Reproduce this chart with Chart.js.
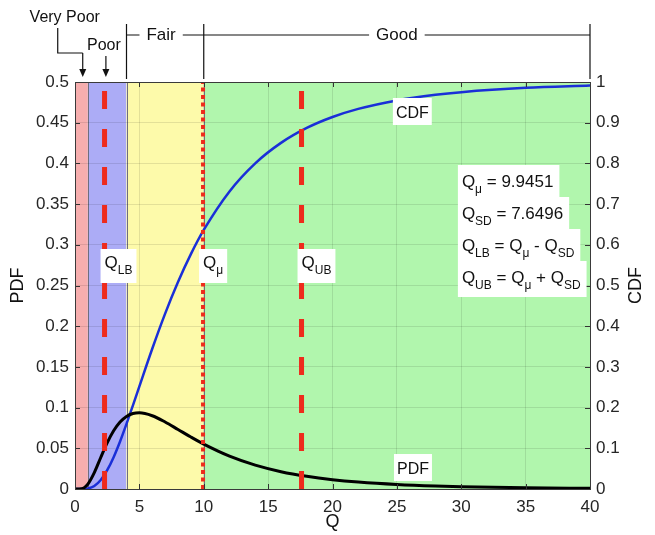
<!DOCTYPE html>
<html>
<head>
<meta charset="utf-8">
<script src="https://cdn.jsdelivr.net/npm/chart.js@4.4.0/dist/chart.umd.min.js"></script>
<style>
  html, body { margin: 0; padding: 0; background: #fff; }
</style>
</head>
<body>
<canvas id="myChart" width="655" height="535"></canvas>
<script>
// ---- data
const qValues = [0, 0.5, 0.75, 1, 1.5, 2, 2.5, 3, 3.5, 4, 4.5, 5, 6, 7, 8, 9, 10, 12, 14, 16, 18, 20, 22, 25, 28, 30, 35, 40];
const pdfValues = [0, 0.0003, 0.002, 0.006, 0.0202, 0.0387, 0.0567, 0.0715, 0.0823, 0.0892, 0.0927, 0.0936, 0.09, 0.0823, 0.0731, 0.0638, 0.0551, 0.0403, 0.0293, 0.0213, 0.0156, 0.0115, 0.0086, 0.0056, 0.0037, 0.0029, 0.0015, 0.0009];
const cdfValues = [0, 0, 0.0003, 0.0012, 0.0075, 0.0221, 0.0461, 0.0782, 0.1168, 0.1599, 0.2055, 0.2521, 0.3446, 0.4309, 0.5086, 0.577, 0.6364, 0.7312, 0.8002, 0.8504, 0.8871, 0.914, 0.9339, 0.9548, 0.9685, 0.975, 0.9856, 0.9914];

const qMean = 9.9451;
const qSD = 7.6496;
const qLB = 2.2955;
const qUB = 17.5947;

// rating bands
const bandEdges = [0, 1, 4, 10, 40];
const bandNames = ["Very Poor", "Poor", "Fair", "Good"];
const bandColors = ["#f6aeae", "#acacf6", "#fdfaaa", "#b1f6ad"];

// axes
const qRange = [0, 40];
const pdfRange = [0, 0.5];
const cdfRange = [0, 1];

const FONT = '"Liberation Sans", Arial, sans-serif';
const f = (sz) => sz + "px " + FONT;
const red = "#ee2b1c";

function pts(xs, ys) {
  return xs.map((v, i) => ({ x: v, y: ys[i] }));
}
function vline(q) {
  return [{ x: q, y: pdfRange[0] }, { x: q, y: pdfRange[1] }];
}

// text with subscripts: parts = [[text, isSub], ...]
function richWidth(ctx, parts, size) {
  let w = 0;
  parts.forEach(([t, sub]) => {
    ctx.font = f(sub ? Math.round(size * 0.7) : size);
    w += ctx.measureText(t).width;
  });
  return w;
}
function drawRich(ctx, parts, x, y, size) {
  let cx = x;
  parts.forEach(([t, sub]) => {
    ctx.font = f(sub ? Math.round(size * 0.7) : size);
    ctx.fillText(t, cx, sub ? y + size * 0.38 : y);
    cx += ctx.measureText(t).width;
  });
}

// background bands
const bandsPlugin = {
  id: "bands",
  beforeDraw(chart) {
    const { ctx, chartArea: a, scales } = chart;
    const x = scales.x;
    ctx.save();
    for (let i = 0; i < bandColors.length; i++) {
      const x0 = x.getPixelForValue(bandEdges[i]);
      const x1 = x.getPixelForValue(bandEdges[i + 1]);
      ctx.fillStyle = bandColors[i];
      ctx.fillRect(x0, a.top, x1 - x0, a.bottom - a.top);
    }
    ctx.strokeStyle = "#6e6e7e";
    ctx.lineWidth = 1;
    for (let i = 1; i < bandEdges.length - 1; i++) {
      const px = Math.round(x.getPixelForValue(bandEdges[i])) + 0.5;
      ctx.beginPath();
      ctx.moveTo(px, a.top);
      ctx.lineTo(px, a.bottom);
      ctx.stroke();
    }
    ctx.restore();
  }
};

// frame, ticks, labels and annotations
const annotPlugin = {
  id: "annot",
  afterDraw(chart) {
    const { ctx, chartArea: a, scales } = chart;
    const x = scales.x, y = scales.y, y2 = scales.y2;
    const xp = (v) => x.getPixelForValue(v);
    const yp = (v) => y.getPixelForValue(v);
    ctx.save();

    // inward tick marks
    ctx.strokeStyle = "#333";
    ctx.lineWidth = 1;
    ctx.beginPath();
    x.ticks.forEach((t) => {
      const px = Math.round(xp(t.value)) + 0.5;
      ctx.moveTo(px, a.bottom); ctx.lineTo(px, a.bottom - 5);
      ctx.moveTo(px, a.top); ctx.lineTo(px, a.top + 5);
    });
    y.ticks.forEach((t) => {
      const py = Math.round(yp(t.value)) + 0.5;
      ctx.moveTo(a.left, py); ctx.lineTo(a.left + 5, py);
    });
    y2.ticks.forEach((t) => {
      const py = Math.round(y2.getPixelForValue(t.value)) + 0.5;
      ctx.moveTo(a.right, py); ctx.lineTo(a.right - 5, py);
    });
    ctx.stroke();

    // frame
    ctx.strokeStyle = "#3a3a3a";
    ctx.strokeRect(Math.round(a.left) + 0.5, Math.round(a.top) + 0.5, Math.round(a.right - a.left), Math.round(a.bottom - a.top));

    // axis titles
    ctx.fillStyle = "#111";
    ctx.font = f(18);
    ctx.textAlign = "center";
    ctx.textBaseline = "middle";
    ctx.fillText("Q", (a.left + a.right) / 2, 522);
    ctx.save();
    ctx.translate(18, (a.top + a.bottom) / 2);
    ctx.rotate(-Math.PI / 2);
    ctx.fillText("PDF", 0, 0);
    ctx.restore();
    ctx.save();
    ctx.translate(636, (a.top + a.bottom) / 2);
    ctx.rotate(-Math.PI / 2);
    ctx.fillText("CDF", 0, 0);
    ctx.restore();

    // rating annotations above the plot
    ctx.strokeStyle = "#111";
    ctx.fillStyle = "#111";
    ctx.lineWidth = 1.2;
    const arrow = (px, y0, y1) => {
      ctx.beginPath();
      ctx.moveTo(px, y0); ctx.lineTo(px, y1 - 6);
      ctx.stroke();
      ctx.beginPath();
      ctx.moveTo(px, y1); ctx.lineTo(px - 3.5, y1 - 8); ctx.lineTo(px + 3.5, y1 - 8);
      ctx.closePath();
      ctx.fill();
    };
    const vpX = xp(0.6);
    ctx.font = f(16);
    ctx.textAlign = "center";
    ctx.textBaseline = "alphabetic";
    ctx.fillText(bandNames[0], vpX - 18, 22);
    ctx.beginPath();
    ctx.moveTo(vpX - 25, 28); ctx.lineTo(vpX - 25, 53); ctx.lineTo(vpX, 53);
    ctx.stroke();
    arrow(vpX, 53, 77);
    const pX = xp(2.4);
    ctx.fillText(bandNames[1], pX - 2, 50);
    arrow(pX, 56, 77);

    const bx = [xp(bandEdges[2]), xp(bandEdges[3]), xp(bandEdges[4])];
    const by = 35;
    ctx.beginPath();
    bx.forEach((px) => { ctx.moveTo(px, 24); ctx.lineTo(px, a.top - 3); });
    ctx.stroke();
    ctx.font = f(17);
    const seg = (x0, x1, txt, cx) => {
      const w = ctx.measureText(txt).width;
      ctx.beginPath();
      ctx.moveTo(x0, by); ctx.lineTo(cx - w / 2 - 7, by);
      ctx.moveTo(cx + w / 2 + 7, by); ctx.lineTo(x1, by);
      ctx.stroke();
      ctx.textBaseline = "middle";
      ctx.fillText(txt, cx, by);
    };
    seg(bx[0], bx[1], bandNames[2], (bx[0] + bx[1]) / 2 - 4);
    seg(bx[1], bx[2], bandNames[3], (bx[1] + bx[2]) / 2);

    // labels on the vertical lines
    ctx.textAlign = "left";
    ctx.textBaseline = "alphabetic";
    const lineLabels = [
      { q: qLB, parts: [["Q"], ["LB", 1]] },
      { q: qMean, parts: [["Q"], ["\u03bc", 1]] },
      { q: qUB, parts: [["Q"], ["UB", 1]] }
    ];
    const labBase = yp(0.2715);
    lineLabels.forEach((l) => {
      const lx = xp(l.q);
      const w = richWidth(ctx, l.parts, 17);
      ctx.fillStyle = "#fff";
      ctx.fillRect(lx - 4, labBase - 19, w + 8, 34);
      ctx.fillStyle = "#111";
      drawRich(ctx, l.parts, lx, labBase, 17);
    });

    // curve names
    const curveLabels = [
      { q: 26.2, v: 0.4558, text: "CDF" },
      { q: 26.25, v: 0.0184, text: "PDF" }
    ];
    ctx.font = f(16);
    ctx.textAlign = "center";
    curveLabels.forEach((l) => {
      const cx = xp(l.q), base = yp(l.v);
      const w = ctx.measureText(l.text).width;
      ctx.fillStyle = "#fff";
      ctx.fillRect(cx - w / 2 - 3, base - 20, w + 6, 27);
      ctx.fillStyle = "#111";
      ctx.fillText(l.text, cx, base);
    });

    // statistics box
    ctx.textAlign = "left";
    const statLines = [
      [["Q"], ["\u03bc", 1], [" = " + qMean]],
      [["Q"], ["SD", 1], [" = " + qSD]],
      [["Q"], ["LB", 1], [" = Q"], ["\u03bc", 1], [" - Q"], ["SD", 1]],
      [["Q"], ["UB", 1], [" = Q"], ["\u03bc", 1], [" + Q"], ["SD", 1]]
    ];
    const sx = xp(30.05);
    const sy = yp(0.371);
    statLines.forEach((parts, i) => {
      const base = sy + i * 32;
      const w = richWidth(ctx, parts, 17);
      ctx.fillStyle = "#fff";
      ctx.fillRect(sx - 4, base - 22, w + 10, i === statLines.length - 1 ? 36 : 32);
    });
    ctx.fillStyle = "#111";
    statLines.forEach((parts, i) => drawRich(ctx, parts, sx, sy + i * 32, 17));

    ctx.restore();
  }
};

const tickColor = "#262626";
const gridColor = "rgba(0,0,0,0.1)";
const tickFont = { family: FONT, size: 17 };

new Chart("myChart", {
  type: "line",
  data: {
    datasets: [
      { data: vline(qLB), borderColor: red, borderWidth: 5, borderDash: [18, 20], borderCapStyle: "butt", pointRadius: 0, order: 0 },
      { data: vline(qMean), borderColor: red, borderWidth: 4, borderDash: [4, 3.5], borderCapStyle: "butt", pointRadius: 0, order: 0 },
      { data: vline(qUB), borderColor: red, borderWidth: 5, borderDash: [18, 20], borderCapStyle: "butt", pointRadius: 0, order: 0 },
      { label: "PDF", data: pts(qValues, pdfValues), yAxisID: "y", borderColor: "#000", borderWidth: 3, pointRadius: 0, cubicInterpolationMode: "monotone", order: 1 },
      { label: "CDF", data: pts(qValues, cdfValues), yAxisID: "y2", borderColor: "#1a2fd8", borderWidth: 2.5, pointRadius: 0, cubicInterpolationMode: "monotone", order: 1 }
    ]
  },
  options: {
    responsive: false,
    devicePixelRatio: 1,
    animation: false,
    layout: { padding: { top: 82, left: 0, right: 0, bottom: 0 } },
    plugins: { legend: { display: false }, tooltip: { enabled: false } },
    scales: {
      x: {
        type: "linear",
        min: qRange[0],
        max: qRange[1],
        ticks: { stepSize: 5, padding: 8, color: tickColor, font: tickFont },
        grid: { color: gridColor, drawTicks: false },
        border: { display: false },
        afterFit: (s) => { s.height = 46; }
      },
      y: {
        min: pdfRange[0],
        max: pdfRange[1],
        ticks: { stepSize: 0.05, padding: 6, color: tickColor, font: tickFont, callback: (v) => String(+v.toFixed(2)) },
        grid: { color: gridColor, drawTicks: false },
        border: { display: false },
        afterFit: (s) => { s.width = 75; }
      },
      y2: {
        position: "right",
        min: cdfRange[0],
        max: cdfRange[1],
        ticks: { stepSize: 0.1, padding: 6, color: tickColor, font: tickFont, callback: (v) => String(+v.toFixed(1)) },
        grid: { drawOnChartArea: false, drawTicks: false },
        border: { display: false },
        afterFit: (s) => { s.width = 65; }
      }
    }
  },
  plugins: [bandsPlugin, annotPlugin]
});
</script>
</body>
</html>
